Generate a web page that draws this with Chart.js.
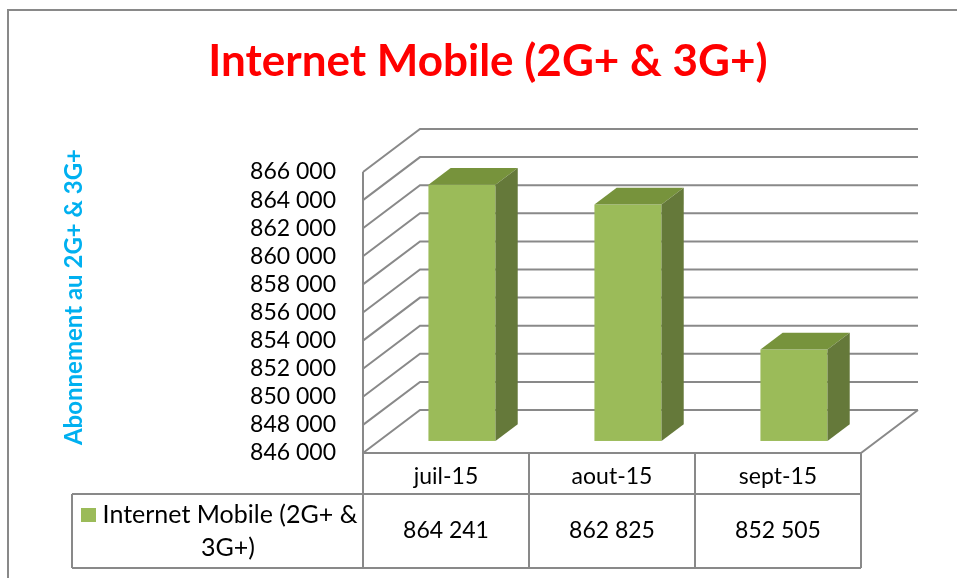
<!DOCTYPE html>
<html>
<head>
<meta charset="utf-8">
<script src="https://cdn.jsdelivr.net/npm/chart.js@4"></script>
<style>
  html, body { margin: 0; padding: 0; background: #fff; }
  #wrap { width: 957px; height: 578px; }
</style>
</head>
<body>
<div id="wrap"><canvas id="chart" width="957" height="578"></canvas></div>
<script>
/* ================== DATA ================== */
const months = ["juil-15", "aout-15", "sept-15"];
const subscribers = [864241, 862825, 852505];
const chartTitle = "Internet Mobile (2G+ & 3G+)";
const axisTitle = "Abonnement au 2G+ & 3G+";
const legendLines = ["Internet Mobile (2G+ &", "3G+)"];
const yMin = 846000;
const yMax = 866000;
const yStep = 2000;

/* ================== LOOK ================== */
const FONT = "Lato, 'Open Sans', sans-serif";
const GRID = "#898989";
const FRONT = "#9BBB59";
const TOP = "#77933C";
const SIDE = "#65793A";
const DEPTH = { dx: 57, dy: -43 };   // full depth of the 3d box
const BAR_FRONT = 0.28;              // where bars start inside the depth
const BAR_DEPTH = 0.39;

function fmt(n) {
  return String(n).replace(/\B(?=(\d{3})+(?!\d))/g, " ");
}

/* ================== 3D WALLS ================== */
const wallsPlugin = {
  id: "walls3d",
  beforeDatasetsDraw(chart) {
    const { ctx, chartArea: a, scales: { y } } = chart;
    ctx.save();
    ctx.strokeStyle = GRID;
    ctx.lineWidth = 2;

    y.ticks.forEach(t => {
      const py = y.getPixelForValue(t.value);
      ctx.beginPath();
      ctx.moveTo(a.left, py);
      ctx.lineTo(a.left + DEPTH.dx, py + DEPTH.dy);
      ctx.lineTo(a.right + DEPTH.dx, py + DEPTH.dy);
      ctx.stroke();
    });

    // front left edge + floor
    ctx.beginPath();
    ctx.moveTo(a.left, a.top);
    ctx.lineTo(a.left, a.bottom);
    ctx.lineTo(a.right, a.bottom);
    ctx.lineTo(a.right + DEPTH.dx, a.bottom + DEPTH.dy);
    ctx.stroke();
    ctx.restore();
  }
};

/* ================== 3D BARS ================== */
const barsPlugin = {
  id: "bars3d",
  afterDatasetsDraw(chart) {
    const ctx = chart.ctx;
    const floor = chart.scales.y.getPixelForValue(yMin);
    const fx = DEPTH.dx * BAR_FRONT, fy = DEPTH.dy * BAR_FRONT;
    const bx = DEPTH.dx * BAR_DEPTH, by = DEPTH.dy * BAR_DEPTH;

    ctx.save();
    chart.getDatasetMeta(0).data.forEach(bar => {
      const l = bar.x - bar.width / 2 + fx;
      const r = bar.x + bar.width / 2 + fx;
      const t = bar.y + fy;
      const b = Math.min(bar.base, floor) + fy;

      ctx.fillStyle = FRONT;
      ctx.fillRect(l, t, r - l, b - t);

      ctx.fillStyle = TOP;
      ctx.beginPath();
      ctx.moveTo(l, t);
      ctx.lineTo(r, t);
      ctx.lineTo(r + bx, t + by);
      ctx.lineTo(l + bx, t + by);
      ctx.closePath();
      ctx.fill();

      ctx.fillStyle = SIDE;
      ctx.beginPath();
      ctx.moveTo(r, t);
      ctx.lineTo(r + bx, t + by);
      ctx.lineTo(r + bx, b + by);
      ctx.lineTo(r, b);
      ctx.closePath();
      ctx.fill();
    });
    ctx.restore();
  }
};

/* ================== TITLES, DATA TABLE, FRAME ================== */
const tablePlugin = {
  id: "dataTable",
  afterDraw(chart) {
    const { ctx, chartArea: a, scales: { x } } = chart;
    const bin = (a.right - a.left) / months.length;
    const rowTop = 494, rowBottom = 568, keyLeft = 72;

    ctx.save();
    ctx.strokeStyle = GRID;
    ctx.lineWidth = 2;

    ctx.beginPath();
    for (let i = 0; i <= months.length; i++) {
      const cx = a.left + i * bin;
      ctx.moveTo(cx, a.bottom);
      ctx.lineTo(cx, rowBottom);
    }
    ctx.moveTo(keyLeft, rowTop);
    ctx.lineTo(a.right, rowTop);
    ctx.moveTo(keyLeft, rowBottom);
    ctx.lineTo(a.right, rowBottom);
    ctx.moveTo(keyLeft, rowTop);
    ctx.lineTo(keyLeft, rowBottom);
    ctx.stroke();

    // outer chart frame
    ctx.beginPath();
    ctx.moveTo(8, 578);
    ctx.lineTo(8, 10);
    ctx.lineTo(957, 10);
    ctx.stroke();

    ctx.textAlign = "center";
    ctx.textBaseline = "middle";

    // chart title
    ctx.fillStyle = "#FF0000";
    ctx.font = "bold 44px " + FONT;
    ctx.fillText(chartTitle, 488, 62);

    ctx.fillStyle = "#000";
    ctx.font = "23px " + FONT;
    months.forEach((m, i) => {
      const cx = x.getPixelForValue(i);
      ctx.fillText(m, cx, 477);
      ctx.fillText(fmt(subscribers[i]), cx, 531);
    });

    // legend key
    ctx.fillStyle = FRONT;
    ctx.fillRect(81, 508, 15, 14);
    ctx.fillStyle = "#000";
    ctx.font = "25px " + FONT;
    ctx.fillText(legendLines[0], 230, 515);
    ctx.fillText(legendLines[1], 228, 548);

    // y axis title
    ctx.translate(74, 297);
    ctx.rotate(-Math.PI / 2);
    ctx.fillStyle = "#00B0F0";
    ctx.font = "bold 24px " + FONT;
    ctx.fillText(axisTitle, 0, 0);
    ctx.restore();
  }
};

/* ================== CHART ================== */
new Chart(document.getElementById("chart"), {
  type: "bar",
  data: {
    labels: months,
    datasets: [{
      label: chartTitle,
      data: subscribers,
      backgroundColor: "rgba(0,0,0,0)",
      categoryPercentage: 1,
      barPercentage: 0.404
    }]
  },
  options: {
    responsive: false,
    animation: false,
    events: [],
    layout: { padding: { left: 0, right: 96, top: 172, bottom: 125 } },
    plugins: {
      legend: { display: false },
      tooltip: { enabled: false },
      title: { display: false }
    },
    scales: {
      x: { display: false },
      y: {
        min: yMin,
        max: yMax,
        grid: { display: false, drawTicks: false },
        border: { display: false },
        ticks: {
          stepSize: yStep,
          autoSkip: false,
          padding: 27,
          color: "#000",
          font: { family: FONT, size: 23 },
          callback: v => fmt(v)
        },
        afterFit(scale) { scale.width = 363; }
      }
    }
  },
  plugins: [wallsPlugin, barsPlugin, tablePlugin]
});
</script>
</body>
</html>
